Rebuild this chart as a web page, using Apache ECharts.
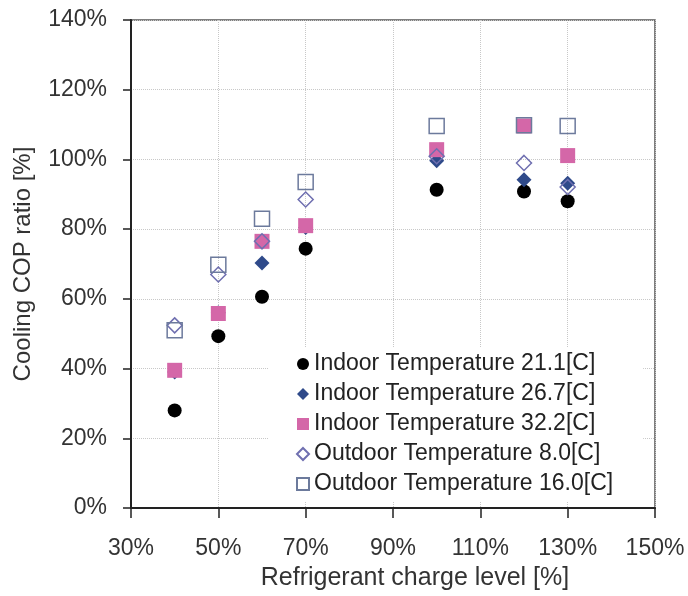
<!DOCTYPE html>
<html>
<head>
<meta charset="utf-8">
<script src="https://cdn.jsdelivr.net/npm/echarts@6/dist/echarts.min.js"></script>
<style>
html,body{margin:0;padding:0;background:#fff;}
#chart{width:688px;height:596px;}
</style>
</head>
<body>
<div id="chart"></div>
<script>
// Data
const chargeLevels = [40, 50, 60, 70, 100, 120, 130];
const indoor211 = [28.0, 49.3, 60.6, 74.4, 91.3, 90.8, 88.0];
const indoor267 = [39.0, 56.0, 70.3, 80.5, 99.6, 94.2, 93.2];
const indoor322 = [39.5, 55.8, 76.5, 81.0, 102.8, 109.6, 101.1];
const outdoor80 = [52.4, 67.0, 76.5, 88.5, 100.9, 99.0, 92.1];
const outdoor160 = [51.0, 69.8, 83.0, 93.5, 109.6, 109.8, 109.6];
const seriesNames = [
  'Indoor Temperature 21.1[C]',
  'Indoor Temperature 26.7[C]',
  'Indoor Temperature 32.2[C]',
  'Outdoor Temperature 8.0[C]',
  'Outdoor Temperature 16.0[C]'
];

function pairs(ys) { return chargeLevels.map((x, i) => [x, ys[i]]); }

const font = 'Liberation Sans, Arial, sans-serif';
const chart = echarts.init(document.getElementById('chart'), null, {renderer: 'canvas'});
chart.setOption({
  animation: false,
  backgroundColor: '#fff',
  textStyle: {fontFamily: font},
  grid: {left: 131, right: 33, top: 20, bottom: 87, show: true, borderColor: '#555', borderWidth: 1.5, backgroundColor: 'transparent'},
  xAxis: {
    type: 'value', min: 30, max: 150, interval: 20,
    name: 'Refrigerant charge level [%]', nameLocation: 'middle', nameGap: 58,
    nameTextStyle: {fontSize: 25, color: '#333', fontFamily: font, padding: [0, 0, 0, 44]},
    axisLine: {show: true, lineStyle: {color: '#222', width: 2}},
    axisTick: {show: true, length: 10, lineStyle: {color: '#222', width: 1.5}},
    axisLabel: {formatter: '{value}%', fontSize: 23, color: '#333', margin: 29, fontFamily: font},
    splitLine: {show: true, lineStyle: {color: '#c8c8c8', type: 'dotted', width: 1}}
  },
  yAxis: {
    type: 'value', min: 0, max: 140, interval: 20,
    name: 'Cooling COP ratio [%]', nameLocation: 'middle', nameGap: 96,
    nameTextStyle: {fontSize: 24, color: '#333', fontFamily: font},
    axisLine: {show: true, lineStyle: {color: '#222', width: 2}},
    axisTick: {show: true, length: 8, lineStyle: {color: '#222', width: 1.5}},
    axisLabel: {formatter: '{value}%', fontSize: 23, color: '#333', margin: 24, fontFamily: font},
    splitLine: {show: true, lineStyle: {color: '#c8c8c8', type: 'dotted', width: 1}}
  },
  legend: {
    orient: 'vertical', left: 268, top: 347,
    padding: [4, 30, 4, 28], backgroundColor: '#fff',
    itemWidth: 12, itemHeight: 12, itemGap: 4,
    textStyle: {fontSize: 23, color: '#222', lineHeight: 26, fontFamily: font},
    data: seriesNames
  },
  series: [
    {name: seriesNames[0], type: 'scatter', symbol: 'circle', symbolSize: 14,
     itemStyle: {color: '#000', opacity: 1}, data: pairs(indoor211)},
    {name: seriesNames[1], type: 'scatter', symbol: 'diamond', symbolSize: 15,
     itemStyle: {color: '#2f4a8a', opacity: 1}, data: pairs(indoor267)},
    {name: seriesNames[2], type: 'scatter', symbol: 'rect', symbolSize: 15,
     itemStyle: {color: '#d467a8', opacity: 1}, data: pairs(indoor322)},
    {name: seriesNames[3], type: 'scatter', symbol: 'diamond', symbolSize: 15,
     itemStyle: {color: 'rgba(255,255,255,0)', borderColor: '#6f6fb0', borderWidth: 1.5, opacity: 1}, data: pairs(outdoor80)},
    {name: seriesNames[4], type: 'scatter', symbol: 'rect', symbolSize: 15,
     itemStyle: {color: 'rgba(255,255,255,0)', borderColor: '#6c7a9c', borderWidth: 1.5, opacity: 1}, data: pairs(outdoor160)}
  ]
});
</script>
</body>
</html>
